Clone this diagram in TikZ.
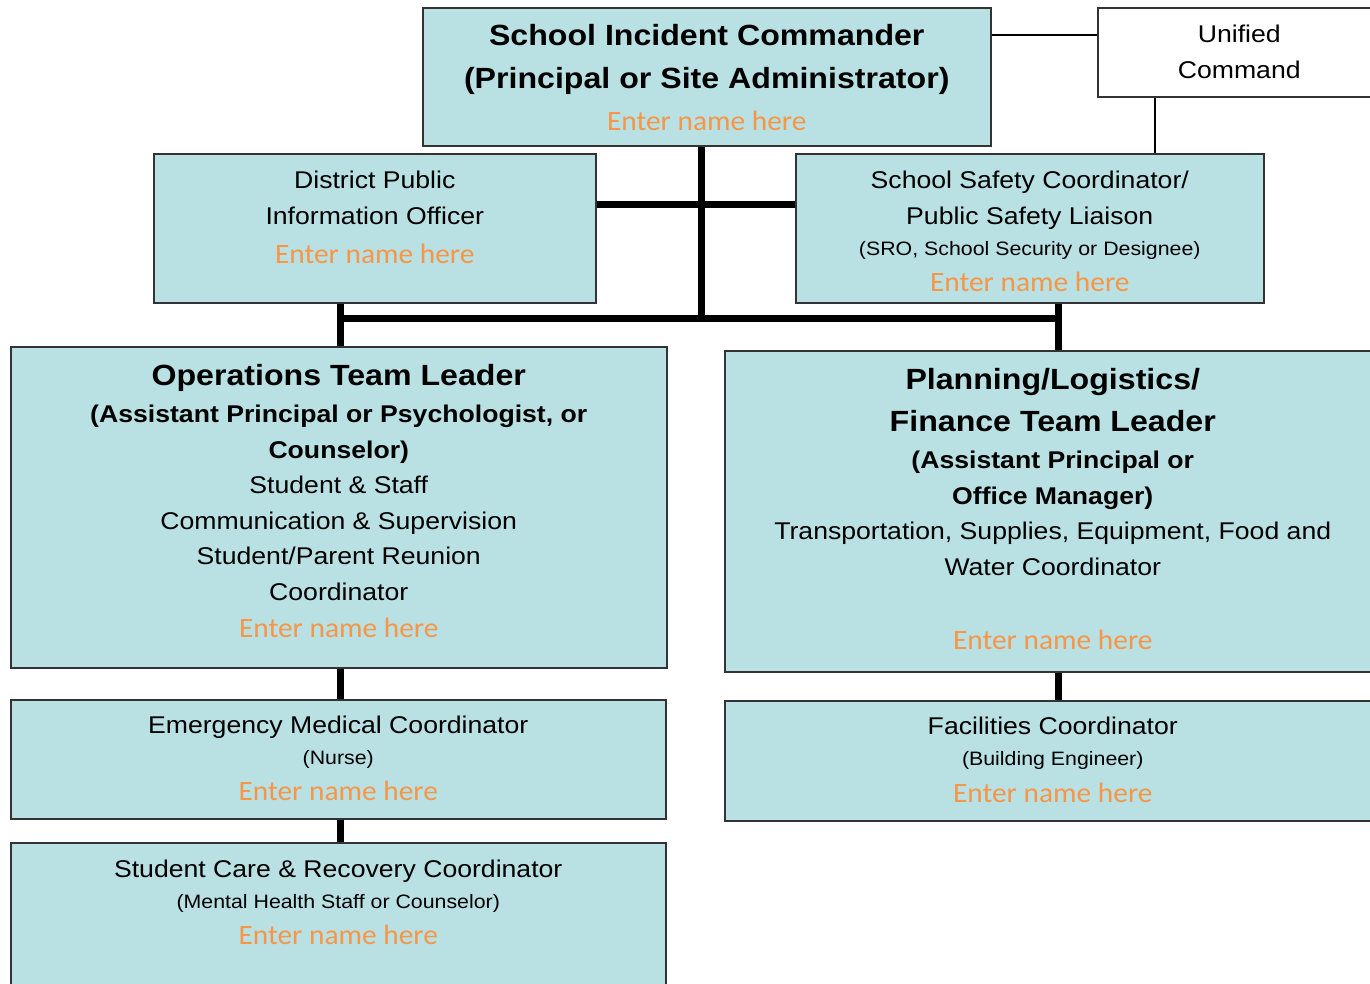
\documentclass[tikz,border=0pt]{standalone}
\usepackage{fontspec}
\setmainfont[FakeStretch=1.1]{Liberation Sans}
\newfontfamily\namefont[FakeStretch=1.05]{Carlito}
\usepackage{tikz}
\usetikzlibrary{positioning,calc}
\definecolor{boxfill}{RGB}{185,224,227}
\definecolor{nameorange}{RGB}{247,150,70}
\tikzset{
  every picture/.style = {
    x = 1pt,
    y = -1pt,
  }
  ,
  box/.style = {
    rectangle,
    draw = black!80,
    fill = boxfill,
    line width = 1.5pt,
    anchor = north west,
    inner sep = 0pt
  }
  ,
  plain-box/.style = {
    box,
    fill = white
  }
  , % text lines inside the boxes
  label-head/.style = {
    font = \bfseries\fontsize{29.2}{43}\selectfont,
    align = center,
    anchor = north,
    inner sep = 0pt
  }
  ,
  label-sub/.style = {
    label-head,
    font = \bfseries\fontsize{24.2}{36}\selectfont
  }
  ,
  label-body/.style = {
    label-head,
    font = \fontsize{24.2}{35.5}\selectfont
  }
  ,
  label-small/.style = {
    label-head,
    font = \fontsize{19.4}{23}\selectfont
  }
  ,
  label-name/.style = {
    label-head,
    font = \namefont\fontsize{28}{32}\selectfont,
    text = nameorange
  }
  , % connectors
  link/.style = {
    line width = 7pt
  }
  ,
  thin-link/.style = {
    line width = 1.5pt
  }
}

\begin{document}
\begin{tikzpicture}
\useasboundingbox (0,0) rectangle (1370,983);

% boxes
\node [box, minimum width = 568pt, minimum height = 138pt] (cmd) at (422,7) {};
\node [plain-box, minimum width = 283pt, minimum height = 89pt] (unified) at (1097,7) {};
\node [box, minimum width = 442pt, minimum height = 149pt] (pio) at (153,153) {};
\node [box, minimum width = 468pt, minimum height = 149pt] (safety) at (795,153) {};
\node [box, minimum width = 656pt, minimum height = 321pt] (ops) at (10,346) {};
\node [box, minimum width = 656pt, minimum height = 321pt] (plan) at (724,350) {};
\node [box, minimum width = 655pt, minimum height = 119pt] (med) at (10,699) {};
\node [box, minimum width = 656pt, minimum height = 120pt] (fac) at (724,700) {};
\node [box, minimum width = 655pt, minimum height = 160pt] (care) at (10,842) {};

% texts
\node [label-head] (cmd-title) at ([yshift=-17pt]cmd.north) {School Incident Commander\\(Principal or Site Administrator)};
\node [label-name] (cmd-name) at ([yshift=-104pt]cmd.north) {Enter name here};

\node [label-body] (unified-text) at ([yshift=-18pt]unified.north) {Unified\\Command};

\node [label-body] (pio-title) at ([yshift=-18pt]pio.north) {District Public\\Information Officer};
\node [label-name] (pio-name) at ([yshift=-91pt]pio.north) {Enter name here};

\node [label-body] (safety-title) at ([yshift=-18pt]safety.north) {School Safety Coordinator/\\Public Safety Liaison};
\node [label-small] (safety-role) at ([yshift=-88pt]safety.north) {(SRO, School Security or Designee)};
\node [label-name] (safety-name) at ([yshift=-119pt]safety.north) {Enter name here};

\node [label-head] (ops-title) at ([yshift=-18pt]ops.north) {Operations Team Leader};
\node [label-sub] (ops-role) at ([yshift=-59pt]ops.north) {(Assistant Principal or Psychologist, or\\Counselor)};
\node [label-body] (ops-duty) at ([yshift=-130pt]ops.north) {Student \& Staff\\Communication \& Supervision\\Student/Parent Reunion\\Coordinator};
\node [label-name] (ops-name) at ([yshift=-272pt]ops.north) {Enter name here};

\node [label-head, font = \bfseries\fontsize{29.2}{42}\selectfont] (plan-title) at ([yshift=-18pt]plan.north) {Planning/Logistics/\\Finance Team Leader};
\node [label-sub] (plan-role) at ([yshift=-101pt]plan.north) {(Assistant Principal or\\Office Manager)};
\node [label-body] (plan-duty) at ([yshift=-172pt]plan.north) {Transportation, Supplies, Equipment, Food and\\Water Coordinator};
\node [label-name] (plan-name) at ([yshift=-280pt]plan.north) {Enter name here};

\node [label-body] (med-title) at ([yshift=-17pt]med.north) {Emergency Medical Coordinator};
\node [label-small] (med-role) at ([yshift=-51pt]med.north) {(Nurse)};
\node [label-name] (med-name) at ([yshift=-82pt]med.north) {Enter name here};

\node [label-body] (fac-title) at ([yshift=-17pt]fac.north) {Facilities Coordinator};
\node [label-small] (fac-role) at ([yshift=-51pt]fac.north) {(Building Engineer)};
\node [label-name] (fac-name) at ([yshift=-83pt]fac.north) {Enter name here};

\node [label-body] (care-title) at ([yshift=-18pt]care.north) {Student Care \& Recovery Coordinator};
\node [label-small] (care-role) at ([yshift=-52pt]care.north) {(Mental Health Staff or Counselor)};
\node [label-name] (care-name) at ([yshift=-83pt]care.north) {Enter name here};

% connectors
\coordinate (busL) at (340,318);
\coordinate (busM) at (701,318);
\coordinate (busR) at (1058,318);
\coordinate (pio-link) at (701,204);
\coordinate (uni-link) at (1040,35);
\coordinate (uni-drop) at (1155,120);

\draw [link] (cmd.south -| busM) -- (busM);
\draw [link] (pio.east |- pio-link) -- (safety.west |- pio-link);
\draw [link] (busL) -- (busR);
\draw [link] (pio.south -| busL) -- (ops.north -| busL);
\draw [link] (safety.south -| busR) -- (plan.north -| busR);
\draw [link] (ops.south -| busL) -- (med.north -| busL);
\draw [link] (med.south -| busL) -- (care.north -| busL);
\draw [link] (plan.south -| busR) -- (fac.north -| busR);
\draw [thin-link] (cmd.east |- uni-link) -- (unified.west |- uni-link);
\draw [thin-link] (unified.south -| uni-drop) -- (safety.north -| uni-drop);
\end{tikzpicture}
\end{document}
